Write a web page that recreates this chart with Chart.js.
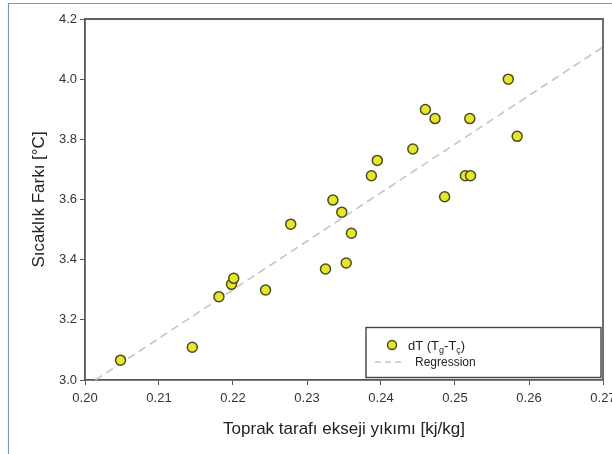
<!DOCTYPE html>
<html>
<head>
<meta charset="utf-8">
<script src="https://cdn.jsdelivr.net/npm/chart.js@4/dist/chart.umd.min.js"></script>
<style>
  html, body { margin: 0; padding: 0; background: #ffffff; }
  #wrap { position: relative; width: 612px; height: 454px; }
  canvas { display: block; }
</style>
</head>
<body>
<div id="wrap"><canvas id="c" width="612" height="454"></canvas></div>
<script>
// ---- data ----
const xValues = [0.2048, 0.2145, 0.2181, 0.2198, 0.2201, 0.2244, 0.2278, 0.2325, 0.2335, 0.2347, 0.2353, 0.2360,
                 0.2387, 0.2395, 0.2443, 0.2460, 0.2473, 0.2486, 0.2514, 0.2521, 0.2520, 0.2572, 0.2584];
const yValues = [3.066, 3.109, 3.277, 3.318, 3.338, 3.299, 3.518, 3.369, 3.598, 3.558, 3.389, 3.488,
                 3.679, 3.730, 3.768, 3.899, 3.869, 3.609, 3.679, 3.679, 3.869, 4.000, 3.810];
const regX = [0.2014, 0.2700];
const regY = [3.000, 4.107];
const xTicks = [0.20, 0.21, 0.22, 0.23, 0.24, 0.25, 0.26, 0.27];
const yTicks = [3.0, 3.2, 3.4, 3.6, 3.8, 4.0, 4.2];
const seriesLabel = 'dT (Tg-Tç)';
const seriesLabelParts = [['dT (T', false], ['g', true], ['-T', false], ['ç', true], [')', false]];
const regLabel = 'Regression';
const xTitle = 'Toprak tarafı ekseji yıkımı [kj/kg]';
const yTitle = 'Sıcaklık Farkı [°C]';

const FONT = "'Liberation Sans', Arial, sans-serif";
const axisColor = '#555555';

const framePlugin = {
  id: 'frame',
  beforeDraw(chart) {
    const ctx = chart.ctx;
    ctx.save();
    ctx.strokeStyle = '#8096b8';
    ctx.lineWidth = 1.2;
    ctx.beginPath();
    ctx.moveTo(8.5, 454);
    ctx.lineTo(8.5, 3.5);
    ctx.lineTo(612, 3.5);
    ctx.stroke();
    ctx.restore();
  },
  afterDraw(chart) {
    const ctx = chart.ctx;
    const a = chart.chartArea;
    ctx.save();
    ctx.strokeStyle = '#606060';
    ctx.lineWidth = 1.8;
    ctx.beginPath();
    ctx.moveTo(a.left, a.top);
    ctx.lineTo(a.right, a.top);
    ctx.lineTo(a.right, a.bottom);
    ctx.stroke();

    // legend box
    const bx = 366, by = 327.5, bw = 235, bh = 50;
    ctx.fillStyle = '#ffffff';
    ctx.fillRect(bx, by, bw, bh);
    ctx.strokeStyle = '#444444';
    ctx.lineWidth = 1.4;
    ctx.strokeRect(bx, by, bw, bh);

    // entry 1: marker + rich text
    const ds0 = chart.data.datasets[0];
    ctx.beginPath();
    ctx.arc(392, 345, 4.5, 0, Math.PI * 2);
    ctx.fillStyle = ds0.backgroundColor;
    ctx.fill();
    ctx.lineWidth = 1.5;
    ctx.strokeStyle = ds0.borderColor;
    ctx.stroke();

    let x = 408;
    const base = 350;
    ctx.fillStyle = '#222222';
    ctx.textBaseline = 'alphabetic';
    ctx.textAlign = 'left';
    for (const [t, sub] of seriesLabelParts) {
      ctx.font = (sub ? '9px ' : '13px ') + FONT;
      ctx.fillText(t, x, sub ? base + 3 : base);
      x += ctx.measureText(t).width;
    }

    // entry 2: dashed line + text
    const ds1 = chart.data.datasets[1];
    ctx.beginPath();
    ctx.setLineDash([6, 4]);
    ctx.strokeStyle = ds1.borderColor;
    ctx.lineWidth = 1.3;
    ctx.moveTo(375, 362);
    ctx.lineTo(405, 362);
    ctx.stroke();
    ctx.setLineDash([]);
    ctx.font = '12px ' + FONT;
    ctx.fillStyle = '#222222';
    ctx.fillText(ds1.label, 415, 366);
    ctx.restore();
  }
};

new Chart(document.getElementById('c'), {
  type: 'scatter',
  data: {
    datasets: [
      {
        label: seriesLabel,
        data: xValues.map((v, i) => ({ x: v, y: yValues[i] })),
        backgroundColor: '#e6e62e',
        borderColor: '#4d4d1c',
        borderWidth: 1.5,
        pointRadius: 5,
        order: 1
      },
      {
        label: regLabel,
        type: 'line',
        data: regX.map((v, i) => ({ x: v, y: regY[i] })),
        borderColor: '#c4c4ca',
        borderWidth: 1.6,
        borderDash: [8, 5],
        pointRadius: 0,
        fill: false,
        order: 2
      }
    ]
  },
  options: {
    responsive: false,
    animation: false,
    devicePixelRatio: 1,
    layout: { padding: { left: 0, top: 19, right: 9, bottom: 0 } },
    plugins: { legend: { display: false }, tooltip: { enabled: false } },
    scales: {
      x: {
        type: 'linear',
        min: 0.20,
        max: 0.27,
        afterBuildTicks(scale) { scale.ticks = xTicks.map(v => ({ value: v })); },
        afterFit(scale) { scale.height = 74; scale.paddingLeft = 0; scale.paddingRight = 0; },
        ticks: {
          autoSkip: false,
          maxRotation: 0,
          padding: 6,
          color: '#333333',
          font: { family: FONT, size: 13 },
          callback: v => Number(v).toFixed(2)
        },
        grid: { drawOnChartArea: false, drawTicks: true, tickLength: 5, color: axisColor, lineWidth: 1 },
        border: { display: true, color: axisColor, width: 1.8 },
        title: {
          display: true,
          text: xTitle,
          color: '#222222',
          font: { family: FONT, size: 17 },
          padding: { top: 0, bottom: 14 }
        }
      },
      y: {
        type: 'linear',
        min: 3.0,
        max: 4.2,
        afterBuildTicks(scale) { scale.ticks = yTicks.map(v => ({ value: v })); },
        afterFit(scale) { scale.width = 85; scale.paddingTop = 0; scale.paddingBottom = 0; },
        ticks: {
          autoSkip: false,
          padding: 3,
          color: '#333333',
          font: { family: FONT, size: 13 },
          callback: v => Number(v).toFixed(1)
        },
        grid: { drawOnChartArea: false, drawTicks: true, tickLength: 5, color: axisColor, lineWidth: 1 },
        border: { display: true, color: axisColor, width: 1.8 },
        title: {
          display: true,
          text: yTitle,
          color: '#222222',
          font: { family: FONT, size: 17 },
          padding: { top: 29, bottom: 0 }
        }
      }
    }
  },
  plugins: [framePlugin]
});
</script>
</body>
</html>
